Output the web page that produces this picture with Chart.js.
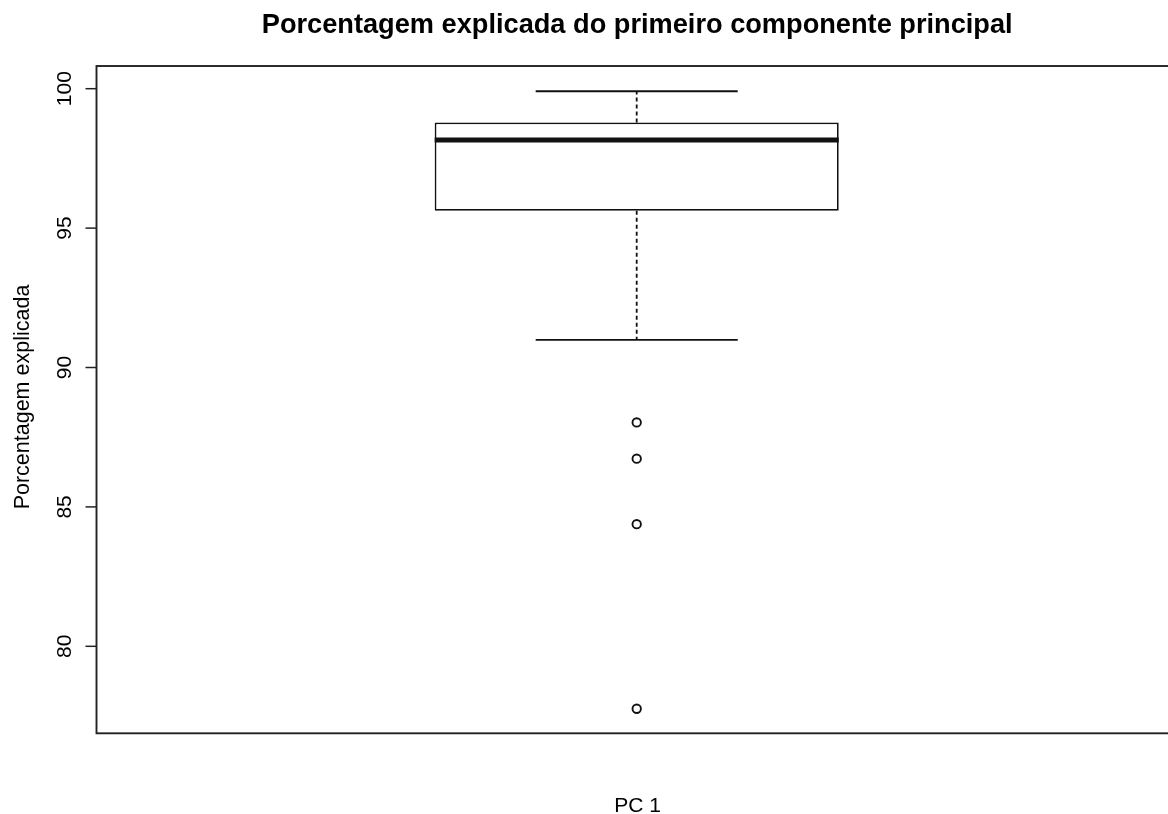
<!DOCTYPE html>
<html>
<head>
<meta charset="utf-8">
<title>Porcentagem explicada do primeiro componente principal</title>
<script src="https://cdn.jsdelivr.net/npm/chart.js@4/dist/chart.umd.min.js"></script>
<style>
  html, body { margin: 0; padding: 0; background: #ffffff; overflow: hidden; }
  #wrap { width: 1183px; height: 814px; }
</style>
</head>
<body>
<div id="wrap"><canvas id="c" width="1183" height="814"></canvas></div>
<script>
// Box-plot summary of the variance explained by PC 1
const categories = ['PC 1'];
const lowerWhisker = [90.99];
const quartile1 = [95.62];
const median = [98.16];
const quartile3 = [98.79];
const upperWhisker = [99.91];
const outliers = [88.03, 86.73, 84.38, 77.76];
const yTicks = [80, 85, 90, 95, 100];

const titleText = 'Porcentagem explicada do primeiro componente principal';
const yTitleText = 'Porcentagem explicada';

const FONT = '"Liberation Sans", Arial, Helvetica, sans-serif';
const INK = '#111111';

// Whiskers, caps, median, frame, ticks and titles, all positioned from the scales
const boxDecor = {
  id: 'boxDecor',
  afterDatasetsDraw(chart) {
    const ctx = chart.ctx;
    const ys = chart.scales.y;
    const area = chart.chartArea;
    const meta = chart.getDatasetMeta(0);
    ctx.save();
    ctx.strokeStyle = INK;
    ctx.lineCap = 'butt';

    meta.data.forEach((bar, i) => {
      const cx = bar.x;
      const half = bar.width / 2;
      const yMed = ys.getPixelForValue(median[i]);
      const yQ1 = ys.getPixelForValue(quartile1[i]);
      const yQ3 = ys.getPixelForValue(quartile3[i]);
      const yLo = ys.getPixelForValue(lowerWhisker[i]);
      const yHi = ys.getPixelForValue(upperWhisker[i]);

      // dashed whiskers
      ctx.lineWidth = 1.8;
      ctx.setLineDash([4, 3]);
      ctx.beginPath();
      ctx.moveTo(cx, yQ3); ctx.lineTo(cx, yHi);
      ctx.moveTo(cx, yQ1); ctx.lineTo(cx, yLo);
      ctx.stroke();
      ctx.setLineDash([]);

      // staples at half the box width
      ctx.lineWidth = 1.9;
      ctx.beginPath();
      ctx.moveTo(cx - half / 2, yHi); ctx.lineTo(cx + half / 2, yHi);
      ctx.moveTo(cx - half / 2, yLo); ctx.lineTo(cx + half / 2, yLo);
      ctx.stroke();

      // median
      ctx.lineWidth = 4.8;
      ctx.beginPath();
      ctx.moveTo(cx - half, yMed); ctx.lineTo(cx + half, yMed);
      ctx.stroke();
    });

    // plot frame
    ctx.lineWidth = 1.9;
    ctx.strokeStyle = '#222222';
    ctx.strokeRect(area.left, area.top, area.right - area.left, area.bottom - area.top);

    // y axis ticks and rotated labels
    ctx.lineWidth = 1.5;
    ctx.fillStyle = '#000000';
    ctx.font = '21px ' + FONT;
    ctx.textAlign = 'center';
    ctx.textBaseline = 'alphabetic';
    yTicks.forEach(t => {
      const y = ys.getPixelForValue(t);
      ctx.beginPath();
      ctx.moveTo(area.left - 11, y); ctx.lineTo(area.left, y);
      ctx.stroke();
      ctx.save();
      ctx.translate(71, y);
      ctx.rotate(-Math.PI / 2);
      ctx.fillText(String(t), 0, 0);
      ctx.restore();
    });

    // y axis title
    ctx.save();
    ctx.font = '21.5px ' + FONT;
    ctx.translate(29, 397);
    ctx.rotate(-Math.PI / 2);
    ctx.fillText(yTitleText, 0, 0);
    ctx.restore();

    // category label under the box
    ctx.font = '21px ' + FONT;
    meta.data.forEach((bar, i) => {
      ctx.fillText(categories[i], bar.x + 1, 812);
    });

    // main title
    ctx.font = 'bold 27.2px ' + FONT;
    ctx.fillText(titleText, meta.data[0].x + 0.5, 33);

    ctx.restore();
  }
};

new Chart(document.getElementById('c'), {
  data: {
    labels: categories,
    datasets: [
      {
        type: 'bar',
        data: categories.map((_, i) => [quartile1[i], quartile3[i]]),
        backgroundColor: '#ffffff',
        borderColor: INK,
        borderWidth: 1.8,
        borderSkipped: false,
        barPercentage: 0.374,
        categoryPercentage: 1.0
      },
      {
        type: 'line',
        data: outliers.map(v => ({ x: categories[0], y: v })),
        showLine: false,
        pointStyle: 'circle',
        pointRadius: 4.2,
        pointBorderWidth: 1.9,
        pointBorderColor: INK,
        pointBackgroundColor: 'rgba(0,0,0,0)'
      }
    ]
  },
  options: {
    responsive: false,
    devicePixelRatio: 1,
    animation: false,
    events: [],
    layout: { padding: { left: 96.5, top: 66, right: 2.5, bottom: 80.7 } },
    plugins: { legend: { display: false }, tooltip: { enabled: false }, title: { display: false } },
    scales: {
      x: { type: 'category', offset: true, display: false },
      y: { type: 'linear', min: 76.88, max: 100.814, display: false }
    }
  },
  plugins: [boxDecor]
});
</script>
</body>
</html>
